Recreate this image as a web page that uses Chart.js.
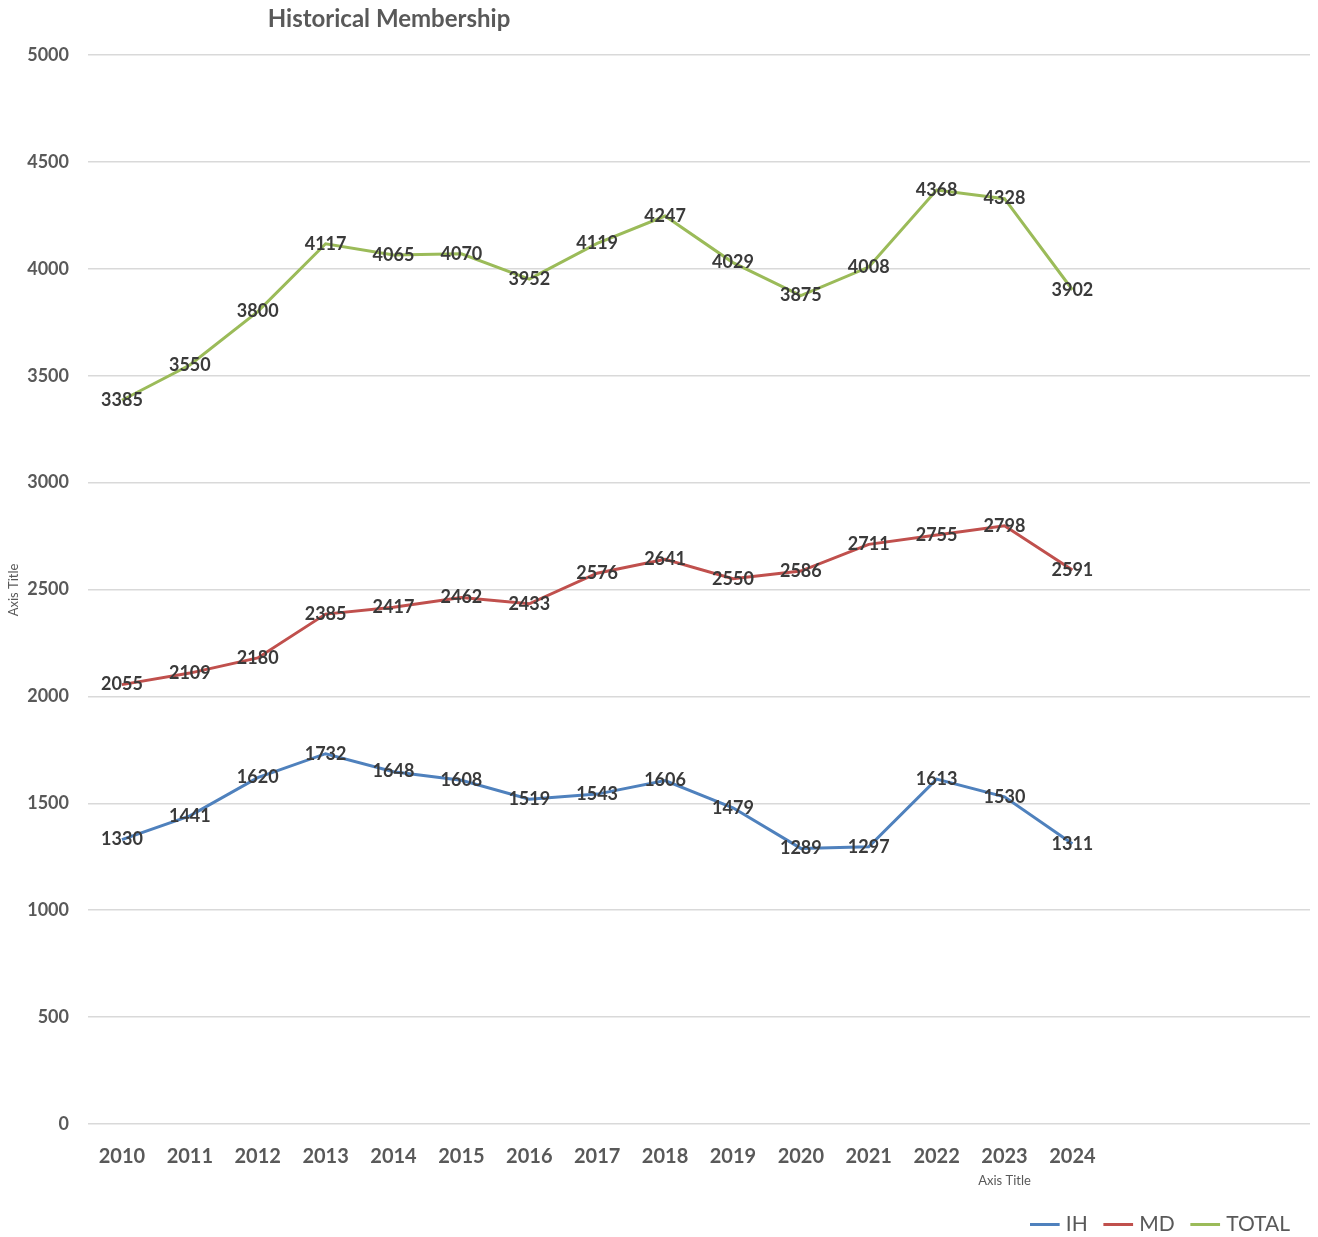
<!DOCTYPE html>
<html>
<head>
<meta charset="utf-8">
<script src="https://cdn.jsdelivr.net/npm/chart.js"></script>
<style>
  html, body { margin: 0; padding: 0; background: #fff; }
  #wrap { width: 1318px; height: 1237px; position: relative; }
</style>
</head>
<body>
<div id="wrap"><canvas id="chart"></canvas></div>
<script>
// years shown on the axis; the last three slots are empty in the original
const years = ['2010', '2011', '2012', '2013', '2014', '2015', '2016', '2017',
    '2018', '2019', '2020', '2021', '2022', '2023', '2024', '', '', ''];
const ih = [1330, 1441, 1620, 1732, 1648, 1608, 1519, 1543, 1606, 1479, 1289, 1297, 1613, 1530, 1311];
const md = [2055, 2109, 2180, 2385, 2417, 2462, 2433, 2576, 2641, 2550, 2586, 2711, 2755, 2798, 2591];
const total = [3385, 3550, 3800, 4117, 4065, 4070, 3952, 4119, 4247, 4029, 3875, 4008, 4368, 4328, 3902];
const yTicks = [0, 500, 1000, 1500, 2000, 2500, 3000, 3500, 4000, 4500, 5000];

const FONT = 'Lato, "Open Sans", sans-serif';
const GREY = '#595959';

// draws values on the points, plus the title and axis titles
const labelsPlugin = {
    id: 'labels',
    afterDatasetsDraw(chart) {
        const ctx = chart.ctx;
        ctx.save();
        ctx.font = 'bold 18px ' + FONT;
        ctx.fillStyle = '#3a3a3a';
        ctx.textAlign = 'center';
        ctx.textBaseline = 'middle';
        chart.data.datasets.forEach((ds, i) => {
            chart.getDatasetMeta(i).data.forEach((pt, j) => {
                ctx.fillText(String(ds.data[j]), pt.x, pt.y);
            });
        });
        ctx.restore();
    },
    afterDraw(chart) {
        const ctx = chart.ctx;
        const x = chart.scales.x;
        ctx.save();
        ctx.fillStyle = GREY;
        ctx.textBaseline = 'middle';
        ctx.textAlign = 'center';
        ctx.font = 'bold 24px ' + FONT;
        ctx.fillText('Historical Membership', 389, 19);
        ctx.font = '13px ' + FONT;
        ctx.fillText('Axis Title', x.getPixelForValue(13), 1181);
        ctx.translate(14, 590);
        ctx.rotate(-Math.PI / 2);
        ctx.fillText('Axis Title', 0, 0);
        ctx.restore();
    }
};

new Chart(document.getElementById('chart'), {
    type: 'line',
    data: {
        labels: years,
        datasets: [
            { label: 'IH', data: ih, borderColor: '#4F81BD', backgroundColor: '#4F81BD', borderWidth: 3 },
            { label: 'MD', data: md, borderColor: '#C0504D', backgroundColor: '#C0504D', borderWidth: 3 },
            { label: 'TOTAL', data: total, borderColor: '#9BBB59', backgroundColor: '#9BBB59', borderWidth: 3 }
        ]
    },
    options: {
        responsive: true,
        maintainAspectRatio: false,
        animation: false,
        elements: {
            line: { tension: 0 },
            point: { radius: 0, hoverRadius: 0 }
        },
        layout: { padding: { top: 55, right: 8, left: 0, bottom: -8 } },
        scales: {
            x: {
                type: 'category',
                offset: true,
                grid: { display: false },
                border: { display: false },
                ticks: {
                    color: GREY,
                    font: { family: FONT, size: 20, weight: 'bold' },
                    padding: 13,
                    maxRotation: 0,
                    autoSkip: false
                },
                afterFit(scale) { scale.height = 70; }
            },
            y: {
                min: 0,
                max: 5000,
                afterBuildTicks(scale) { scale.ticks = yTicks.map(v => ({ value: v })); },
                grid: { color: '#d9d9d9', lineWidth: 1.5, drawTicks: false },
                border: { display: false },
                ticks: {
                    color: GREY,
                    font: { family: FONT, size: 18, weight: 'bold' },
                    padding: 19,
                    callback: v => String(v)
                },
                afterFit(scale) { scale.width = 88; }
            }
        },
        plugins: {
            legend: {
                position: 'bottom',
                align: 'end',
                labels: {
                    usePointStyle: true,
                    pointStyle: 'line',
                    boxWidth: 30,
                    color: GREY,
                    font: { family: FONT, size: 21 },
                    padding: 20
                }
            },
            tooltip: { enabled: false }
        }
    },
    plugins: [labelsPlugin]
});
</script>
</body>
</html>
